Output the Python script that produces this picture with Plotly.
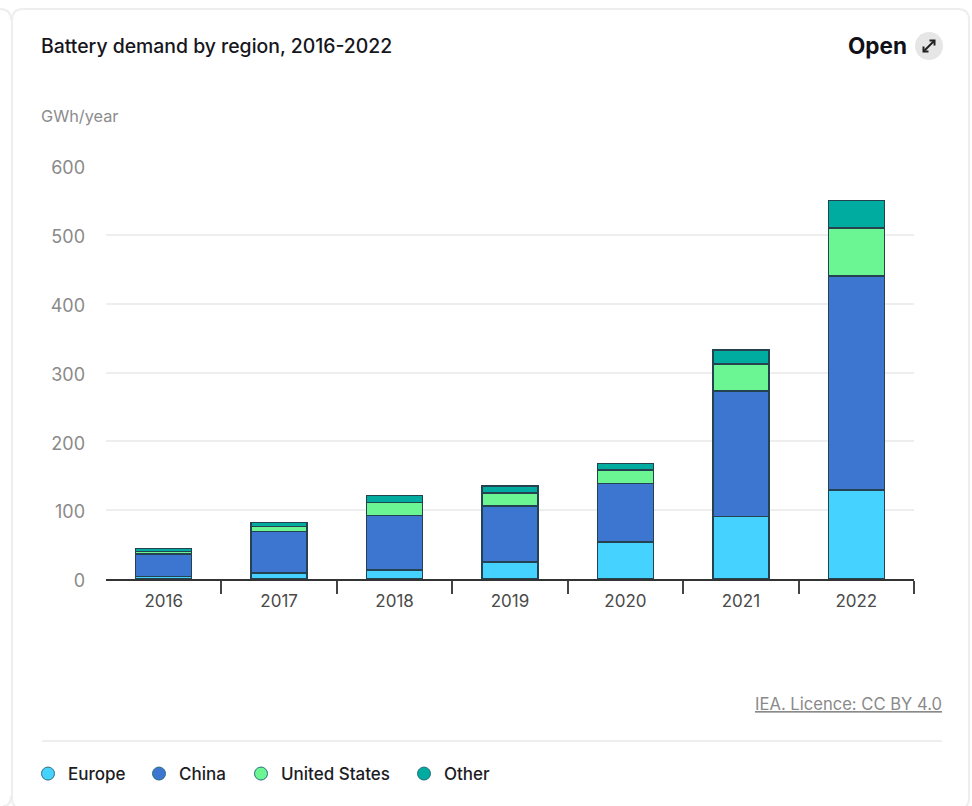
import plotly.graph_objects as go

# Battery demand in GWh/year by region
years = [2016, 2017, 2018, 2019, 2020, 2021, 2022]
europe = [4, 9, 13, 25, 54, 91, 129]
china = [32, 60, 79, 81, 85, 182, 311]
united_states = [4, 7, 19, 19, 19, 39, 70]
other = [4, 6, 10, 10, 10, 21, 40]
y_ticks = [0, 100, 200, 300, 400, 500, 600]

series_names = ["Europe", "China", "United States", "Other"]
series_values = [europe, china, united_states, other]
series_colors = ["#45d2ff", "#3d76d0", "#6bf593", "#00ab9f"]
legend_left_px = [28, 139, 241, 404]

W, H = 972, 806
L, R, T, B = 106, 914, 166, 579
FONT = "Inter"
OUTLINE = "#24424f"
CARD_LINE = "#eeeeee"
ICON = "#222222"


def px(x):
    return (x - L) / (R - L)


def py(y):
    return (B - y) / (B - T)


def rounded_card(x0, y0, x1, y1, r):
    a, b, c, d = px(x0), py(y0), px(x1), py(y1)
    rx, ry = r / (R - L), r / (B - T)
    return (
        f"M {a + rx} {b} L {c - rx} {b} Q {c} {b} {c} {b - ry} "
        f"L {c} {d + ry} Q {c} {d} {c - rx} {d} L {a + rx} {d} "
        f"Q {a} {d} {a} {d + ry} L {a} {b - ry} Q {a} {b} {a + rx} {b} Z"
    )


def pixel_path(*points):
    return "M " + " L ".join(f"{px(x)} {py(y)}" for x, y in points)


def paper_shape(**kwargs):
    return dict(xref="paper", yref="paper", **kwargs)


fig = go.Figure()

for name, values, color in zip(series_names, series_values, series_colors):
    fig.add_trace(go.Bar(
        x=years, y=values, name=name, width=0.485, showlegend=False,
        marker=dict(color=color, line=dict(color=OUTLINE, width=1.5)),
    ))

# Round legend keys, each in its own legend so the row can be spaced freely
legend_layouts = {}
for i, (name, color, left) in enumerate(zip(series_names, series_colors, legend_left_px)):
    legend_id = "legend" if i == 0 else f"legend{i + 1}"
    fig.add_trace(go.Scatter(
        x=[None], y=[None], mode="markers", name=name, legend=legend_id,
        marker=dict(color=color, size=13, symbol="circle",
                    line=dict(color="#2a6f80", width=1)),
    ))
    legend_layouts[legend_id] = dict(
        orientation="h", xref="paper", yref="paper",
        x=px(left), y=py(774), xanchor="left", yanchor="middle",
        font=dict(size=17, color="#1c1c24", weight=500),
        bgcolor="rgba(0,0,0,0)",
    )

shapes = [
    # Card outline
    paper_shape(type="path", path=rounded_card(12, 9, 969, 809, 11),
                line=dict(color=CARD_LINE, width=2), fillcolor="rgba(0,0,0,0)", layer="below"),
    # Corners of the neighbouring card
    paper_shape(type="path", path=f"M {px(0)} {py(9)} Q {px(11)} {py(9)} {px(11)} {py(20)}",
                line=dict(color=CARD_LINE, width=2), layer="below"),
    paper_shape(type="path", path=f"M {px(11)} {py(796)} Q {px(11)} {py(806)} {px(3)} {py(806)}",
                line=dict(color=CARD_LINE, width=2), layer="below"),
    # Divider above the legend
    paper_shape(type="line", x0=px(42), x1=px(942), y0=py(741), y1=py(741),
                line=dict(color=CARD_LINE, width=2)),
    # Open button
    paper_shape(type="circle", x0=px(915), x1=px(943), y0=py(32), y1=py(60),
                line=dict(width=0), fillcolor="#e6e6e6"),
    paper_shape(type="line", x0=px(923.5), x1=px(934.5), y0=py(51.5), y1=py(40.5),
                line=dict(color=ICON, width=2)),
    paper_shape(type="path", path=pixel_path((929.5, 40.5), (934.5, 40.5), (934.5, 45.5)),
                line=dict(color=ICON, width=2)),
    paper_shape(type="path", path=pixel_path((923.5, 46.5), (923.5, 51.5), (928.5, 51.5)),
                line=dict(color=ICON, width=2)),
]

annotations = [
    dict(text="Battery demand by region, 2016-2022", x=px(39), y=py(46),
         font=dict(size=19.4, color="#16161c", weight=500)),
    dict(text="GWh/year", x=px(39), y=py(116),
         font=dict(size=16.3, color="#8c8c8c")),
    dict(text="Open", x=px(909), y=py(45), xanchor="right",
         font=dict(size=22.5, color="#111118", weight=700)),
    dict(text="IEA. Licence: CC BY 4.0", x=px(944), y=py(704), xanchor="right",
         font=dict(size=16.6, color="#8a8a8a", lineposition="under")),
]
for note in annotations:
    note.setdefault("xanchor", "left")
    note.update(xref="paper", yref="paper", yanchor="middle", showarrow=False)

fig.update_layout(
    width=W, height=H, autosize=False,
    margin=dict(l=L, r=W - R, t=T, b=H - B, pad=0),
    paper_bgcolor="#ffffff", plot_bgcolor="#ffffff",
    barmode="stack", bargap=0.515,
    font=dict(family=FONT),
    shapes=shapes, annotations=annotations,
    showlegend=True,
    **legend_layouts,
)
fig.update_xaxes(
    range=[2015.5, 2022.5], tickmode="array", tickvals=years,
    ticktext=[str(y) for y in years], ticks="", showgrid=False, zeroline=False,
    showline=True, linecolor="#333333", linewidth=2,
    ticklabelstandoff=6, tickfont=dict(size=17, color="#4a4a4a"),
    minor=dict(tickmode="array", tickvals=[y + 0.5 for y in years], ticks="outside",
               ticklen=13, tickwidth=2, tickcolor="#444444", showgrid=False),
)
fig.update_yaxes(
    range=[0, 600], tickmode="array", tickvals=y_ticks, ticks="",
    showgrid=True, gridcolor="#eeeeee", gridwidth=2, zeroline=False, showline=False,
    ticklabelstandoff=20, ticklabelshift=2, tickfont=dict(size=18, color="#8a8a8a"),
)

fig.write_html("out.html", config=dict(displayModeBar=False))
